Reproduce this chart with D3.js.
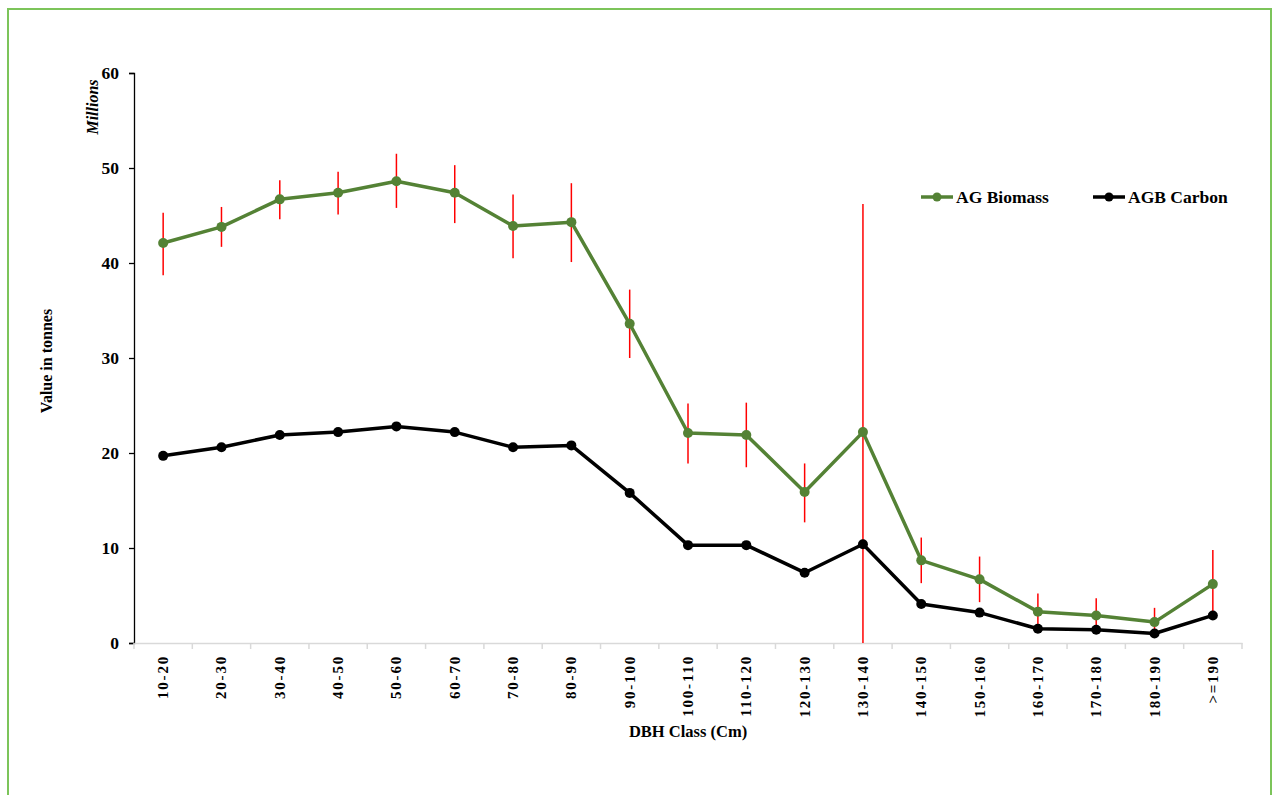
<!DOCTYPE html>
<html>
<head>
<meta charset="utf-8">
<script src="https://cdn.jsdelivr.net/npm/d3@7"></script>
<style>
  html, body { margin: 0; padding: 0; background: #fff; }
  svg { display: block; }
  text { font-family: "Liberation Serif", "Times New Roman", serif; font-weight: bold; fill: #000; }
</style>
</head>
<body>
<script>
const categories = ["10-20","20-30","30-40","40-50","50-60","60-70","70-80","80-90","90-100","100-110","110-120","120-130","130-140","140-150","150-160","160-170","170-180","180-190",">=190"];
const biomass = [42.1, 43.8, 46.7, 47.4, 48.6, 47.4, 43.9, 44.3, 33.6, 22.1, 21.9, 15.9, 22.2, 8.7, 6.7, 3.3, 2.9, 2.2, 6.2];
const biomassHigh = [45.3, 45.9, 48.7, 49.6, 51.5, 50.3, 47.2, 48.4, 37.2, 25.2, 25.3, 18.9, 46.2, 11.1, 9.1, 5.2, 4.7, 3.7, 9.8];
const biomassLow = [38.7, 41.7, 44.6, 45.1, 45.8, 44.2, 40.5, 40.1, 30.0, 18.9, 18.5, 12.7, 0, 6.3, 4.3, 1.5, 1.0, 0.7, 2.9];
const carbon = [19.7, 20.6, 21.9, 22.2, 22.8, 22.2, 20.6, 20.8, 15.8, 10.3, 10.3, 7.4, 10.4, 4.1, 3.2, 1.5, 1.4, 1.0, 2.9];
const yTicks = [0, 10, 20, 30, 40, 50, 60];
const seriesNames = ["AG Biomass", "AGB Carbon"];

const W = 1274, H = 795;
const pLeft = 134, pRight = 1242, pTop = 73, pBottom = 643;
const green = "#548235";

const svg = d3.select("body").append("svg").attr("width", W).attr("height", H);

// outer frame
svg.append("rect").attr("x", 8).attr("y", 9).attr("width", 1263).attr("height", 800)
  .attr("fill", "none").attr("stroke", "#7cc45a").attr("stroke-width", 2);

const x = d3.scaleBand().domain(categories).range([pLeft, pRight]).paddingInner(0).paddingOuter(0);
const y = d3.scaleLinear().domain([0, 60]).range([pBottom, pTop]);
const cx = c => x(c) + x.bandwidth() / 2;

// Y axis
const yAxis = svg.append("g").attr("transform", `translate(${pLeft},0)`)
  .call(d3.axisLeft(y).tickValues(yTicks).tickSize(5).tickPadding(10).tickFormat(d3.format("d")));
yAxis.select(".domain").attr("stroke", "#000").attr("stroke-width", 1.3);
yAxis.selectAll(".tick line").attr("stroke", "#000").attr("stroke-width", 1.3);
yAxis.selectAll(".tick text").style("font-size", "17.5px").style("font-family", "Liberation Serif, serif").style("font-weight", "bold");

// X axis
const xAxis = svg.append("g").attr("transform", `translate(0,${pBottom})`)
  .call(d3.axisBottom(x).tickSize(0).tickFormat(""));
xAxis.select(".domain").attr("stroke", "#d9d9d9").attr("stroke-width", 1.5);
xAxis.selectAll(".tick").remove();
const boundaries = categories.map(c => x(c)).concat([pRight]);
svg.append("g").selectAll("line").data(boundaries).join("line")
  .attr("x1", d => d).attr("x2", d => d).attr("y1", pBottom).attr("y2", pBottom + 6)
  .attr("stroke", "#d9d9d9").attr("stroke-width", 1.5);

svg.append("g").selectAll("text").data(categories).join("text")
  .attr("transform", d => `translate(${cx(d) + 5},${pBottom + 12}) rotate(-90)`)
  .attr("text-anchor", "end")
  .style("font-size", "15px")
  .style("letter-spacing", "1.8px")
  .text(d => d);

// axis titles
svg.append("text").attr("transform", `translate(${52},${361}) rotate(-90)`)
  .attr("text-anchor", "middle").style("font-size", "16px").text("Value in tonnes");
svg.append("text").attr("transform", `translate(${98},${107}) rotate(-90)`)
  .attr("text-anchor", "middle").style("font-size", "16px").style("font-style", "italic").text("Millions");
svg.append("text").attr("x", 688).attr("y", 737)
  .attr("text-anchor", "middle").style("font-size", "16.5px").text("DBH Class (Cm)");

// Error bars
svg.append("g").selectAll("line").data(categories).join("line")
  .attr("x1", d => cx(d)).attr("x2", d => cx(d))
  .attr("y1", (d, i) => y(Math.max(0, biomassLow[i])))
  .attr("y2", (d, i) => y(biomassHigh[i]))
  .attr("stroke", "#ff0000").attr("stroke-width", 1.5);

// Lines
const line = d3.line().x(d => cx(d.c)).y(d => y(d.v));
const bData = categories.map((c, i) => ({ c, v: biomass[i] }));
const cData = categories.map((c, i) => ({ c, v: carbon[i] }));

svg.append("path").datum(cData).attr("d", line).attr("fill", "none")
  .attr("stroke", "#000").attr("stroke-width", 3.5).attr("stroke-linejoin", "round");
svg.append("g").selectAll("circle").data(cData).join("circle")
  .attr("cx", d => cx(d.c)).attr("cy", d => y(d.v)).attr("r", 5).attr("fill", "#000");

svg.append("path").datum(bData).attr("d", line).attr("fill", "none")
  .attr("stroke", green).attr("stroke-width", 3.5).attr("stroke-linejoin", "round");
svg.append("g").selectAll("circle").data(bData).join("circle")
  .attr("cx", d => cx(d.c)).attr("cy", d => y(d.v)).attr("r", 5).attr("fill", green);

// Legend
const legend = [
  { name: seriesNames[0], color: green, x: 921 },
  { name: seriesNames[1], color: "#000", x: 1093 }
];
const lg = svg.append("g").selectAll("g").data(legend).join("g")
  .attr("transform", d => `translate(${d.x},197)`);
lg.append("line").attr("x1", 0).attr("x2", 32).attr("y1", 0).attr("y2", 0)
  .attr("stroke", d => d.color).attr("stroke-width", 3.5);
lg.append("circle").attr("cx", 16).attr("cy", 0).attr("r", 4.5).attr("fill", d => d.color);
lg.append("text").attr("x", 35).attr("y", 6).style("font-size", "17.5px").text(d => d.name);
</script>
</body>
</html>
